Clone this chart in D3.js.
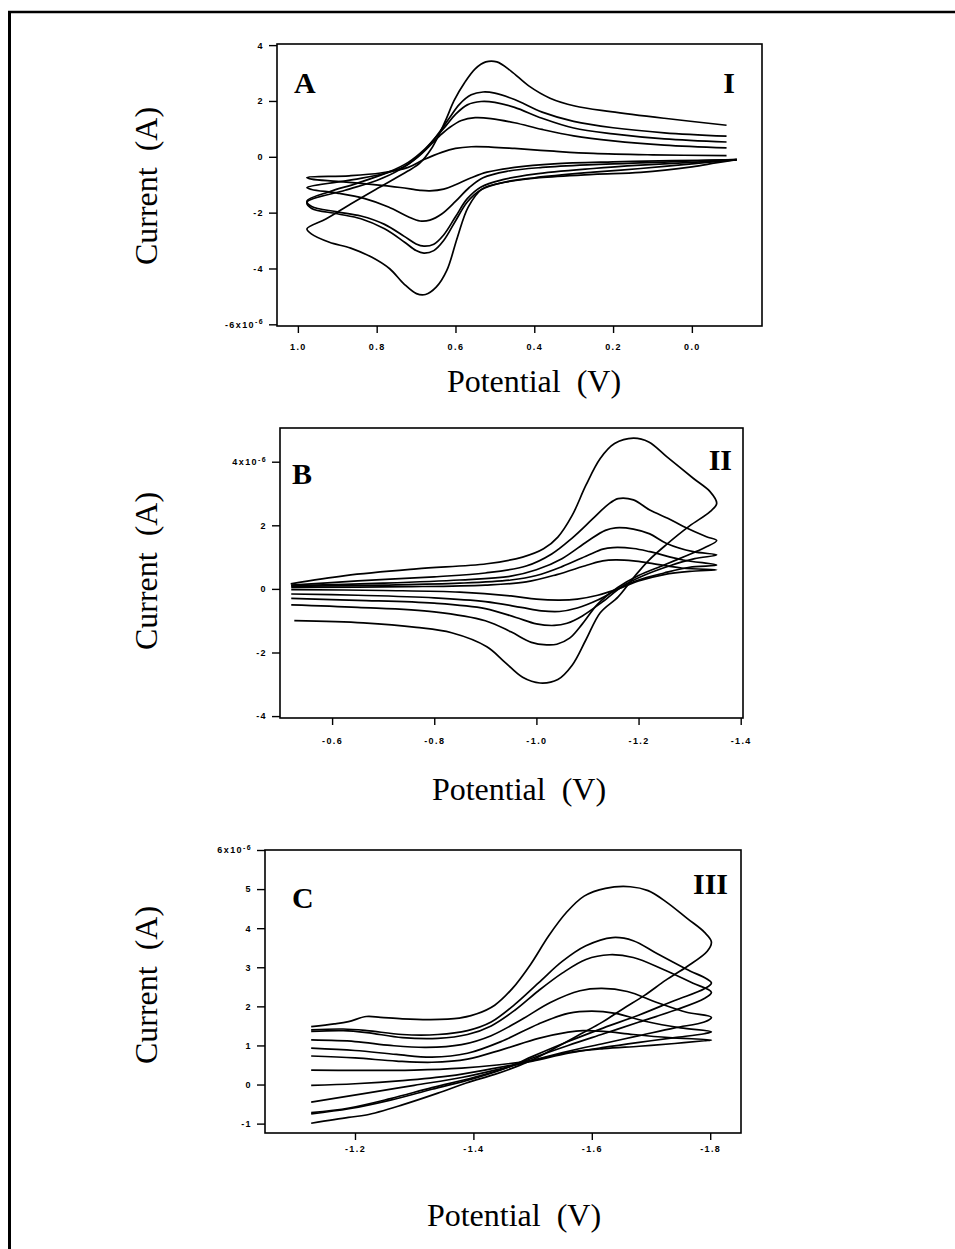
<!DOCTYPE html>
<html>
<head>
<meta charset="utf-8">
<script src="https://cdn.jsdelivr.net/npm/d3@7/dist/d3.min.js"></script>
<style>
  body { margin: 0; background: #fff; }
  svg { display: block; }
</style>
</head>
<body>
<svg id="fig" width="955" height="1249"></svg>
<script>
// ---- panel A : potential (V) vs current (x1e-6 A), 5 scans ----
const ticksA_x = [1.0, 0.8, 0.6, 0.4, 0.2, 0.0];
const ticksA_y = [-6, -4, -2, 0, 2, 4];
const loopA1 = [[-0.088,1.13],[0.07,1.38],[0.206,1.62],[0.297,1.82],[0.36,2.1],[0.414,2.54],[0.459,3.07],[0.495,3.4],[0.523,3.4],[0.55,3.15],[0.577,2.65],[0.604,2.0],[0.622,1.4],[0.64,0.85],[0.663,0.25],[0.69,-0.22],[0.722,-0.52],[0.794,-1.1],[0.866,-1.69],[0.929,-2.23],[0.977,-2.58],
  [0.966,-2.76],[0.92,-3.06],[0.866,-3.27],[0.812,-3.6],[0.767,-4.01],[0.731,-4.55],[0.699,-4.9],[0.676,-4.93],[0.649,-4.67],[0.622,-4.07],[0.595,-2.88],[0.568,-1.81],[0.532,-1.15],[0.477,-0.92],[0.387,-0.75],[0.25,-0.63],[0.13,-0.56],[0.0,-0.36],[-0.06,-0.22],[-0.114,-0.1]];
const loopA2 = [[-0.088,0.74],[0.07,0.86],[0.2,1.04],[0.3,1.27],[0.38,1.6],[0.45,2.05],[0.5,2.28],[0.53,2.32],[0.56,2.22],[0.59,1.88],[0.615,1.4],[0.64,0.9],[0.665,0.45],[0.7,-0.05],[0.74,-0.45],[0.8,-0.85],[0.88,-1.2],[0.977,-1.63],
  [0.965,-1.85],[0.9,-2.04],[0.84,-2.22],[0.78,-2.58],[0.73,-3.05],[0.7,-3.36],[0.68,-3.45],[0.655,-3.36],[0.63,-3.0],[0.6,-2.3],[0.57,-1.62],[0.535,-1.18],[0.48,-0.92],[0.4,-0.75],[0.25,-0.55],[0.13,-0.42],[0.0,-0.25],[-0.114,-0.1]];
const loopA3 = [[-0.088,0.53],[0.07,0.64],[0.2,0.82],[0.3,1.03],[0.38,1.38],[0.45,1.77],[0.5,1.95],[0.535,1.98],[0.57,1.86],[0.6,1.52],[0.625,1.1],[0.65,0.7],[0.68,0.25],[0.72,-0.2],[0.77,-0.55],[0.85,-0.95],[0.92,-1.25],[0.977,-1.58],
  [0.965,-1.78],[0.9,-1.97],[0.84,-2.12],[0.78,-2.42],[0.73,-2.85],[0.7,-3.12],[0.68,-3.2],[0.655,-3.13],[0.63,-2.8],[0.6,-2.15],[0.57,-1.5],[0.535,-1.08],[0.48,-0.82],[0.4,-0.62],[0.25,-0.42],[0.13,-0.3],[0.0,-0.2],[-0.114,-0.1]];
const loopA4 = [[-0.088,0.32],[0.07,0.42],[0.2,0.57],[0.3,0.75],[0.38,0.98],[0.45,1.22],[0.51,1.37],[0.55,1.4],[0.585,1.3],[0.615,1.05],[0.64,0.75],[0.665,0.4],[0.695,0.0],[0.73,-0.35],[0.78,-0.6],[0.86,-0.82],[0.977,-1.1],
  [0.965,-1.17],[0.9,-1.3],[0.83,-1.5],[0.77,-1.8],[0.72,-2.15],[0.69,-2.3],[0.665,-2.27],[0.635,-2.05],[0.6,-1.6],[0.565,-1.1],[0.53,-0.75],[0.47,-0.52],[0.38,-0.38],[0.25,-0.28],[0.13,-0.22],[0.0,-0.15],[-0.114,-0.1]];
const loopA5 = [[-0.088,0.04],[0.1,0.07],[0.25,0.12],[0.35,0.2],[0.45,0.3],[0.51,0.35],[0.56,0.36],[0.6,0.3],[0.635,0.16],[0.68,-0.1],[0.72,-0.38],[0.79,-0.58],[0.87,-0.68],[0.977,-0.74],
  [0.965,-0.8],[0.9,-0.88],[0.82,-0.98],[0.74,-1.1],[0.69,-1.2],[0.665,-1.22],[0.63,-1.16],[0.6,-1.0],[0.56,-0.75],[0.52,-0.55],[0.45,-0.38],[0.35,-0.25],[0.2,-0.18],[0.05,-0.14],[-0.114,-0.1]];

// ---- panel B ----
const ticksB_x = [-0.6, -0.8, -1.0, -1.2, -1.4];
const ticksB_y = [-4, -2, 0, 2, 4];
const loopB1 = [[-0.519,0.16],[-0.626,0.42],[-0.765,0.63],[-0.903,0.79],[-0.973,1.0],[-1.014,1.26],[-1.042,1.63],[-1.07,2.31],[-1.097,3.26],[-1.125,4.1],[-1.153,4.57],[-1.19,4.74],[-1.22,4.62],[-1.255,4.16],[-1.307,3.48],[-1.34,3.06],[-1.353,2.69],
  [-1.34,2.43],[-1.3,1.98],[-1.255,1.4],[-1.22,0.9],[-1.19,0.35],[-1.16,-0.25],[-1.125,-0.75],[-1.097,-1.6],[-1.07,-2.4],[-1.042,-2.85],[-1.007,-2.96],[-0.973,-2.78],[-0.938,-2.3],[-0.903,-1.82],[-0.834,-1.38],[-0.765,-1.21],[-0.661,-1.07],[-0.526,-1.0]];
const loopB2 = [[-0.52,0.12],[-0.65,0.25],[-0.8,0.38],[-0.9,0.5],[-0.98,0.72],[-1.03,1.1],[-1.07,1.6],[-1.11,2.2],[-1.14,2.65],[-1.16,2.84],[-1.19,2.8],[-1.222,2.48],[-1.26,2.2],[-1.288,1.96],[-1.333,1.64],[-1.353,1.52],
  [-1.33,1.3],[-1.29,1.02],[-1.25,0.75],[-1.2,0.42],[-1.16,0.05],[-1.12,-0.48],[-1.09,-1.1],[-1.065,-1.55],[-1.04,-1.74],[-1.02,-1.76],[-0.99,-1.68],[-0.95,-1.35],[-0.9,-1.0],[-0.8,-0.72],[-0.65,-0.58],[-0.52,-0.5]];
const loopB3 = [[-0.52,0.1],[-0.7,0.18],[-0.85,0.28],[-0.95,0.4],[-1.0,0.6],[-1.05,0.95],[-1.1,1.5],[-1.135,1.84],[-1.155,1.92],[-1.19,1.88],[-1.222,1.73],[-1.255,1.43],[-1.307,1.17],[-1.353,1.07],
  [-1.31,0.95],[-1.26,0.72],[-1.21,0.42],[-1.17,0.1],[-1.13,-0.4],[-1.09,-0.85],[-1.06,-1.08],[-1.035,-1.15],[-1.0,-1.1],[-0.96,-0.9],[-0.9,-0.62],[-0.8,-0.45],[-0.65,-0.36],[-0.52,-0.3]];
const loopB4 = [[-0.52,0.08],[-0.7,0.12],[-0.85,0.18],[-0.95,0.28],[-1.0,0.42],[-1.05,0.7],[-1.1,1.05],[-1.13,1.25],[-1.15,1.3],[-1.19,1.27],[-1.222,1.17],[-1.287,0.91],[-1.353,0.75],
  [-1.3,0.68],[-1.25,0.5],[-1.2,0.28],[-1.16,0.0],[-1.12,-0.35],[-1.08,-0.6],[-1.045,-0.71],[-1.01,-0.69],[-0.97,-0.58],[-0.9,-0.4],[-0.8,-0.28],[-0.65,-0.2],[-0.52,-0.16]];
const loopB5 = [[-0.52,0.05],[-0.75,0.07],[-0.9,0.12],[-0.98,0.22],[-1.04,0.45],[-1.1,0.75],[-1.13,0.88],[-1.155,0.91],[-1.19,0.88],[-1.222,0.81],[-1.287,0.65],[-1.353,0.6],
  [-1.3,0.55],[-1.25,0.45],[-1.2,0.25],[-1.16,0.0],[-1.12,-0.2],[-1.08,-0.32],[-1.045,-0.35],[-1.0,-0.32],[-0.95,-0.22],[-0.85,-0.1],[-0.7,-0.05],[-0.52,-0.02]];

// ---- panel C ----
const ticksC_x = [-1.2, -1.4, -1.6, -1.8];
const ticksC_y = [-1, 0, 1, 2, 3, 4, 5, 6];
const loopC1 = [[-1.126,1.48],[-1.165,1.55],[-1.189,1.61],[-1.219,1.74],[-1.243,1.72],[-1.28,1.68],[-1.328,1.66],[-1.376,1.7],[-1.406,1.81],[-1.436,2.03],[-1.466,2.46],[-1.496,3.06],[-1.527,3.8],[-1.557,4.4],[-1.587,4.82],[-1.623,5.02],[-1.665,5.06],[-1.695,4.96],[-1.725,4.68],[-1.761,4.25],[-1.79,3.9],[-1.802,3.65],
  [-1.795,3.41],[-1.761,3.02],[-1.725,2.67],[-1.689,2.28],[-1.653,1.94],[-1.617,1.59],[-1.581,1.29],[-1.545,0.99],[-1.508,0.69],[-1.478,0.49],[-1.436,0.26],[-1.388,0.04],[-1.34,-0.22],[-1.28,-0.52],[-1.219,-0.78],[-1.189,-0.84],[-1.126,-0.99]];
const loopC2 = [[-1.126,1.4],[-1.18,1.42],[-1.22,1.38],[-1.28,1.28],[-1.34,1.28],[-1.39,1.38],[-1.43,1.6],[-1.47,2.05],[-1.51,2.6],[-1.55,3.15],[-1.59,3.55],[-1.635,3.76],[-1.67,3.68],[-1.71,3.35],[-1.76,2.95],[-1.802,2.6],
  [-1.79,2.45],[-1.74,2.15],[-1.68,1.78],[-1.62,1.45],[-1.56,1.1],[-1.5,0.72],[-1.46,0.45],[-1.4,0.15],[-1.33,-0.12],[-1.26,-0.4],[-1.19,-0.62],[-1.126,-0.75]];
const loopC3 = [[-1.126,1.36],[-1.18,1.38],[-1.22,1.33],[-1.28,1.2],[-1.34,1.18],[-1.39,1.28],[-1.43,1.5],[-1.47,1.9],[-1.51,2.4],[-1.55,2.85],[-1.59,3.2],[-1.63,3.32],[-1.67,3.25],[-1.72,2.95],[-1.77,2.6],[-1.802,2.36],
  [-1.79,2.2],[-1.74,1.9],[-1.68,1.6],[-1.62,1.3],[-1.56,1.0],[-1.5,0.68],[-1.46,0.45],[-1.4,0.18],[-1.33,-0.08],[-1.26,-0.36],[-1.19,-0.6],[-1.126,-0.72]];
const loopC4 = [[-1.126,1.14],[-1.2,1.1],[-1.26,1.0],[-1.32,0.95],[-1.38,1.02],[-1.43,1.25],[-1.48,1.65],[-1.53,2.1],[-1.58,2.4],[-1.617,2.46],[-1.66,2.38],[-1.71,2.1],[-1.76,1.85],[-1.802,1.72],
  [-1.79,1.6],[-1.74,1.45],[-1.68,1.25],[-1.62,1.05],[-1.56,0.85],[-1.5,0.62],[-1.44,0.38],[-1.38,0.18],[-1.3,-0.02],[-1.22,-0.22],[-1.126,-0.45]];
const loopC5 = [[-1.126,0.93],[-1.2,0.87],[-1.27,0.77],[-1.33,0.7],[-1.39,0.8],[-1.45,1.12],[-1.51,1.55],[-1.56,1.82],[-1.6,1.88],[-1.64,1.82],[-1.69,1.62],[-1.75,1.45],[-1.802,1.35],
  [-1.79,1.3],[-1.74,1.2],[-1.68,1.08],[-1.62,0.95],[-1.56,0.8],[-1.5,0.6],[-1.43,0.4],[-1.36,0.22],[-1.28,0.1],[-1.2,0.02],[-1.126,-0.02]];
const loopC6 = [[-1.126,0.73],[-1.2,0.68],[-1.27,0.6],[-1.33,0.57],[-1.39,0.65],[-1.45,0.9],[-1.51,1.18],[-1.56,1.34],[-1.585,1.38],[-1.62,1.36],[-1.67,1.28],[-1.73,1.2],[-1.802,1.14],
  [-1.79,1.12],[-1.74,1.05],[-1.68,0.98],[-1.62,0.92],[-1.56,0.82],[-1.5,0.62],[-1.44,0.5],[-1.38,0.42],[-1.3,0.37],[-1.2,0.36],[-1.126,0.37]];

const serif = '"Liberation Serif", "Times New Roman", serif';
const sans = '"Liberation Sans", Arial, sans-serif';

const svg = d3.select('#fig');

// outer frame of the scanned page
svg.append('line').attr('x1', 8).attr('x2', 955).attr('y1', 12).attr('y2', 12)
  .attr('stroke', '#000').attr('stroke-width', 2.5);
svg.append('line').attr('x1', 9.5).attr('x2', 9.5).attr('y1', 11).attr('y2', 1249)
  .attr('stroke', '#000').attr('stroke-width', 3);

function drawPanel(p) {
  const x = d3.scaleLinear().domain(p.xDomain).range([p.box[0], p.box[1]]);
  const y = d3.scaleLinear().domain(p.yDomain).range([p.box[3], p.box[2]]);
  const g = svg.append('g');

  // axes (ticks outward, no domain path)
  const xAxis = g.append('g')
    .attr('transform', `translate(0,${p.box[3]})`)
    .call(d3.axisBottom(x).tickValues(p.xTicks).tickSize(7).tickPadding(p.xPad)
      .tickFormat(d => d.toFixed(1)));
  const yAxis = g.append('g')
    .attr('transform', `translate(${p.box[0]},0)`)
    .call(d3.axisLeft(y).tickValues(p.yTicks).tickSize(8).tickPadding(5)
      .tickFormat(d => String(d)));

  [xAxis, yAxis].forEach(a => {
    a.select('.domain').remove();
    a.selectAll('line').attr('stroke', '#000').attr('stroke-width', 1.4);
    a.selectAll('text')
      .attr('fill', '#000')
      .style('font-family', sans)
      .style('font-weight', 'bold')
      .style('font-size', '9px')
      .style('letter-spacing', '1.4px');
  });

  // the tick that carries the x10^-6 multiplier
  yAxis.selectAll('.tick text')
    .filter(d => d === p.expTick)
    .each(function(d) {
      const t = d3.select(this).text('');
      t.append('tspan').text(d + 'x10');
      t.append('tspan').attr('dy', '-0.5em').style('font-size', '7px').text('-6');
    });

  // frame
  g.append('rect')
    .attr('x', p.box[0]).attr('y', p.box[2])
    .attr('width', p.box[1] - p.box[0]).attr('height', p.box[3] - p.box[2])
    .attr('fill', 'none').attr('stroke', '#000').attr('stroke-width', 1.6);

  const line = d3.line()
    .x(d => x(d[0])).y(d => y(d[1]))
    .curve(d3.curveCatmullRom.alpha(0.5));

  g.selectAll('path.cv').data(p.loops).join('path')
    .attr('class', 'cv')
    .attr('d', line)
    .attr('fill', 'none')
    .attr('stroke', '#000')
    .attr('stroke-width', 1.7)
    .attr('stroke-linejoin', 'round');

  // panel letters
  g.append('text').attr('x', p.letter[1]).attr('y', p.letter[2])
    .style('font-family', serif).style('font-weight', 'bold').style('font-size', '30px')
    .text(p.letter[0]);
  g.append('text').attr('x', p.roman[1]).attr('y', p.roman[2])
    .attr('text-anchor', 'end')
    .style('font-family', serif).style('font-weight', 'bold').style('font-size', '30px')
    .text(p.roman[0]);

  // axis titles
  g.append('text')
    .attr('transform', `translate(${p.yTitle[0]},${p.yTitle[1]}) rotate(-90)`)
    .attr('text-anchor', 'middle')
    .style('font-family', serif).style('font-size', '32px')
    .text('Current\u00a0 (A)');
  g.append('text')
    .attr('x', p.xTitle[0]).attr('y', p.xTitle[1])
    .attr('text-anchor', 'middle')
    .style('font-family', serif).style('font-size', '32px')
    .text('Potential\u00a0 (V)');
}

drawPanel({
  box: [277, 762, 44, 326],
  xDomain: [1.053, -0.178], yDomain: [-6.06, 4.04],
  xTicks: ticksA_x, yTicks: ticksA_y, expTick: -6, xPad: 11,
  loops: [loopA1, loopA2, loopA3, loopA4, loopA5],
  letter: ['A', 294, 93], roman: ['I', 735, 93],
  yTitle: [157, 186], xTitle: [534, 392]
});

drawPanel({
  box: [280, 743, 428, 718],
  xDomain: [-0.498, -1.4045], yDomain: [-4.06, 5.06],
  xTicks: ticksB_x, yTicks: ticksB_y, expTick: 4, xPad: 13,
  loops: [loopB1, loopB2, loopB3, loopB4, loopB5],
  letter: ['B', 292, 484], roman: ['II', 732, 470],
  yTitle: [157, 571], xTitle: [519, 800]
});

drawPanel({
  box: [265, 741, 850, 1133],
  xDomain: [-1.048, -1.852], yDomain: [-1.24, 6],
  xTicks: ticksC_x, yTicks: ticksC_y, expTick: 6, xPad: 6,
  loops: [loopC1, loopC2, loopC3, loopC4, loopC5, loopC6],
  letter: ['C', 292, 908], roman: ['III', 728, 894],
  yTitle: [157, 985], xTitle: [514, 1226]
});
</script>
</body>
</html>
